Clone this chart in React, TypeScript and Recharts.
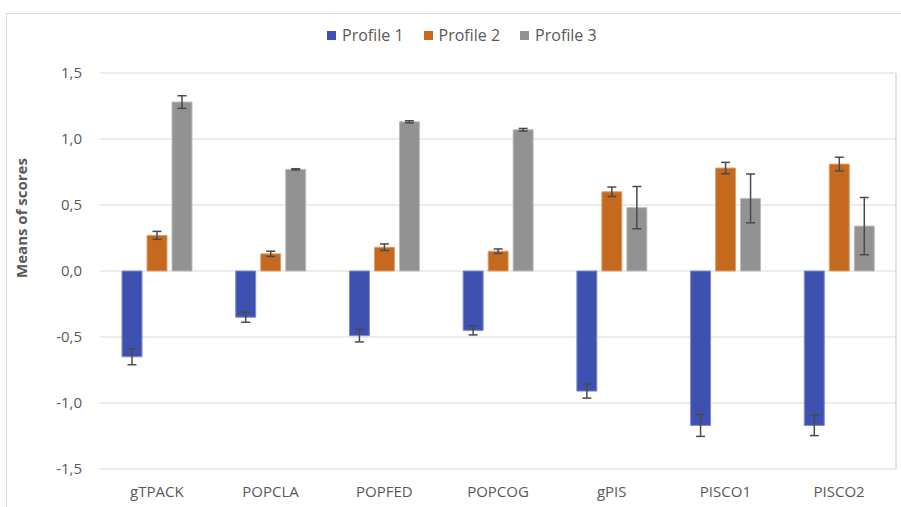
import React from 'react'
import { BarChart, Bar, XAxis, YAxis, CartesianGrid, ErrorBar } from 'recharts'

const categories = ['gTPACK', 'POPCLA', 'POPFED', 'POPCOG', 'gPIS', 'PISCO1', 'PISCO2']
const profile1 = [-0.65, -0.35, -0.49, -0.45, -0.91, -1.17, -1.17]
const profile1Err = [0.06, 0.038, 0.047, 0.034, 0.053, 0.083, 0.077]
const profile2 = [0.27, 0.13, 0.18, 0.15, 0.6, 0.78, 0.81]
const profile2Err = [0.03, 0.02, 0.025, 0.017, 0.036, 0.043, 0.052]
const profile3 = [1.28, 0.77, 1.13, 1.07, 0.48, 0.55, 0.34]
const profile3Err = [0.048, 0.005, 0.008, 0.01, 0.16, 0.185, 0.217]
const yTicks = [-1.5, -1, -0.5, 0, 0.5, 1, 1.5]

const series = [
  { key: 'p1', err: 'e1', name: 'Profile 1', color: '#3F51B0', edge: '#7F8DD0' },
  { key: 'p2', err: 'e2', name: 'Profile 2', color: '#C5691F', edge: '#E0A070' },
  { key: 'p3', err: 'e3', name: 'Profile 3', color: '#929292', edge: '#BDBDBD' },
]

const data = categories.map((c, i) => ({
  name: c,
  p1: profile1[i], e1: profile1Err[i],
  p2: profile2[i], e2: profile2Err[i],
  p3: profile3[i], e3: profile3Err[i],
}))

const FONT = '"Open Sans", "Noto Sans", sans-serif'
const TXT = '#595959'
const GRID = '#d9d9d9'

const fmt = (v: number) => v.toFixed(1).replace('.', ',')

function YLabel(props: any) {
  const vb = props.viewBox
  const x = vb.x - 19
  const y = vb.y + vb.height / 2 - 53
  return (
    <text x={x} y={y} transform={`rotate(-90, ${x}, ${y})`} textAnchor="middle" dominantBaseline="central"
      style={{ fontFamily: FONT, fontSize: 15, fontWeight: 700, fill: TXT }}>
      Means of scores
    </text>
  )
}

export default function App() {
  return (
    <div style={{ position: 'absolute', left: 0, top: 0, width: 901, height: 507, overflow: 'hidden', background: '#fff', fontFamily: FONT }}>
      {/* chart frame */}
      <div style={{ position: 'absolute', left: 6, top: 13, width: 900, height: 520, border: `1px solid ${GRID}`, boxSizing: 'border-box' }} />

      {/* legend */}
      <div style={{ position: 'absolute', left: 327, top: 24, display: 'flex', alignItems: 'center', gap: 20, fontSize: 16, color: TXT }}>
        {series.map(s => (
          <div key={s.key} style={{ display: 'flex', alignItems: 'center', gap: 6 }}>
            <span style={{ width: 9, height: 9, background: s.color, display: 'inline-block' }} />
            <span>{s.name}</span>
          </div>
        ))}
      </div>

      <div style={{ position: 'absolute', left: 0, top: 0 }}>
        <BarChart width={901} height={507} data={data} margin={{ top: 73, right: 4, bottom: 0, left: 40 }}
          barSize={20} barGap={5}>
          <CartesianGrid vertical={false} stroke={GRID} strokeWidth={1} />
          <XAxis dataKey="name" axisLine={false} tickLine={false} height={38} tickMargin={11}
            tick={{ fontSize: 15, fill: TXT, fontFamily: FONT }} interval={0} />
          <YAxis domain={[-1.5, 1.5]} ticks={yTicks} tickFormatter={fmt} axisLine={false} tickLine={false}
            width={60} tickMargin={12} tick={{ fontSize: 15, fill: TXT, fontFamily: FONT }}
            label={{ content: YLabel }} allowDataOverflow />
          <YAxis yAxisId="right" orientation="right" domain={[-1.5, 1.5]} tick={false} tickLine={false}
            width={1} axisLine={{ stroke: GRID, strokeWidth: 1.5 }} />
          {series.map(s => (
            <Bar key={s.key} dataKey={s.key} name={s.name} fill={s.color} stroke={s.edge} strokeWidth={1}
              isAnimationActive={false}>
              <ErrorBar dataKey={s.err} width={4.5} stroke="#4a4a4a" strokeWidth={1.5} direction="y" />
            </Bar>
          ))}
        </BarChart>
      </div>
    </div>
  )
}
